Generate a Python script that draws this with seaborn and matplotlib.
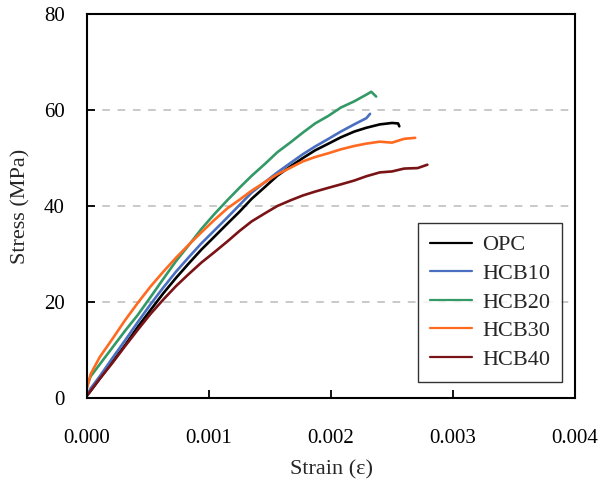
import matplotlib
matplotlib.use("Agg")
import matplotlib.pyplot as plt
import seaborn as sns
import pandas as pd

# ---- data ----
opc_strain = [0, 0.00003, 0.000104, 0.000208, 0.000312, 0.000416, 0.00052, 0.000625, 0.000729,
              0.000833, 0.000937, 0.00104, 0.00115, 0.00125, 0.00135, 0.00146, 0.00156, 0.00167,
              0.00177, 0.00187, 0.00198, 0.00208, 0.00219, 0.00229, 0.0024, 0.0025, 0.00255, 0.00256]
opc_stress = [0.5, 1.5, 4, 7.5, 11, 14.8, 18.3, 21.8, 25, 28, 30.9, 33.5, 36.3, 38.8, 41.5, 44,
              46.3, 48.3, 50, 51.6, 53, 54.3, 55.5, 56.3, 57, 57.3, 57.2, 56.6]

hcb10_strain = [0, 0.00003, 0.000104, 0.000208, 0.000312, 0.000416, 0.00052, 0.000625, 0.000729,
                0.000833, 0.000937, 0.00104, 0.00115, 0.00125, 0.00135, 0.00146, 0.00156, 0.00167,
                0.00177, 0.00187, 0.00198, 0.00208, 0.00219, 0.00229, 0.00232]
hcb10_stress = [0.5, 2, 4.5, 8.3, 12, 15.8, 19.5, 23, 26.3, 29.3, 32.2, 34.8, 37.6, 40.2, 42.8, 45,
                47, 49, 50.8, 52.4, 54, 55.5, 57, 58.3, 59.2]

hcb20_strain = [0, 0.00003, 0.000104, 0.000208, 0.000312, 0.000416, 0.00052, 0.000625, 0.000729,
                0.000833, 0.000937, 0.00104, 0.00115, 0.00125, 0.00135, 0.00146, 0.00156, 0.00167,
                0.00177, 0.00187, 0.00198, 0.00208, 0.00219, 0.00229, 0.00233, 0.00237]
hcb20_stress = [2.5, 4.5, 7, 10.5, 14, 17.3, 21, 24.8, 28.5, 31.8, 35.2, 38.2, 41.2, 43.8, 46.3,
                48.8, 51.2, 53.3, 55.3, 57.2, 58.8, 60.5, 61.8, 63.2, 63.8, 62.8]

hcb30_strain = [0, 0.00003, 0.000104, 0.000208, 0.000312, 0.000416, 0.00052, 0.000625, 0.000729,
                0.000833, 0.000937, 0.00104, 0.00115, 0.00125, 0.00135, 0.00146, 0.00156, 0.00167,
                0.00177, 0.00187, 0.00198, 0.00208, 0.00219, 0.00229, 0.0024, 0.0025, 0.0026, 0.00269]
hcb30_stress = [2, 5, 8.5, 12.3, 16.2, 19.8, 23.2, 26.3, 29.2, 31.9, 34.5, 37, 39.5, 41.3, 43.2, 45,
                46.6, 48, 49.3, 50.2, 51, 51.8, 52.5, 53, 53.4, 53.2, 54, 54.2]

hcb40_strain = [0, 0.00003, 0.000104, 0.000208, 0.000312, 0.000416, 0.00052, 0.000625, 0.000729,
                0.000833, 0.000937, 0.00104, 0.00115, 0.00125, 0.00135, 0.00146, 0.00156, 0.00167,
                0.00177, 0.00187, 0.00198, 0.00208, 0.00219, 0.00229, 0.0024, 0.0025, 0.0026,
                0.00271, 0.00279]
hcb40_stress = [0.5, 1.5, 4, 7.3, 10.8, 14.2, 17.5, 20.5, 23.3, 25.8, 28.2, 30.3, 32.6, 34.8, 36.8,
                38.5, 40, 41.2, 42.2, 43, 43.8, 44.5, 45.3, 46.2, 47, 47.2, 47.8, 47.9, 48.6]

series_names = ["OPC", "HCB10", "HCB20", "HCB30", "HCB40"]
series_colors = ["#000000", "#4A6FC0", "#339966", "#FF6A21", "#7A1315"]
x_ticks = [0.000, 0.001, 0.002, 0.003, 0.004]
y_ticks = [0, 20, 40, 60, 80]

# ---- build long-form table ----
frames = []
for name, xs, ys in zip(series_names,
                        [opc_strain, hcb10_strain, hcb20_strain, hcb30_strain, hcb40_strain],
                        [opc_stress, hcb10_stress, hcb20_stress, hcb30_stress, hcb40_stress]):
    frames.append(pd.DataFrame({"strain": xs, "stress": ys, "mix": name}))
df = pd.concat(frames, ignore_index=True)

sns.set_style("white")
plt.rcParams["font.family"] = ["Liberation Serif", "DejaVu Serif"]

fig = plt.figure(figsize=(5.98, 4.86), dpi=100)
ax = fig.add_axes([87 / 598, 88 / 486, (575 - 87) / 598, 384 / 486])

# grid lines
for yv in y_ticks[1:-1]:
    ax.axhline(yv, color="#BBBBBB", lw=1.1, ls=(0, (5, 5)), zorder=0)

sns.lineplot(data=df, x="strain", y="stress", hue="mix", hue_order=series_names,
             palette=series_colors, sort=False, estimator=None, lw=1.9, ax=ax)

ax.set_xlim(0, 0.004)
ax.set_ylim(0, 80)
ax.set_xticks(x_ticks)
ax.set_xticklabels([f"{v:.3f}" for v in x_ticks])
ax.set_yticks(y_ticks)
ax.set_yticklabels([str(v) for v in y_ticks])
ax.tick_params(axis="both", direction="in", length=6, width=1.3, colors="black",
               labelsize=15, bottom=True, left=True)
ax.tick_params(axis="x", pad=22)
ax.tick_params(axis="y", pad=16)

for sp in ax.spines.values():
    sp.set_color("black")
    sp.set_linewidth(1.5)

ax.set_xlabel("Strain (ε)", fontsize=16, labelpad=9)
ax.set_ylabel("Stress (MPa)", fontsize=16, labelpad=10)

leg = ax.legend(loc="lower right", bbox_to_anchor=(0.974, 0.042), fontsize=16,
                frameon=True, fancybox=False, edgecolor="black", handlelength=1.9,
                labelspacing=0.36, borderpad=0.55, handletextpad=0.45, borderaxespad=0)
leg.get_frame().set_linewidth(1.0)
for line in leg.get_lines():
    line.set_linewidth(1.6)

fig.savefig("out.png", dpi=100)
